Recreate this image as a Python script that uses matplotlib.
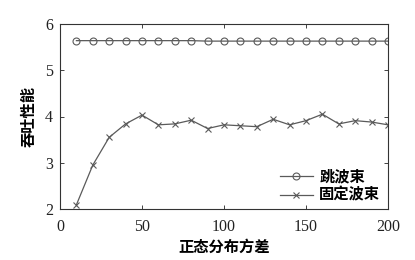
import matplotlib
matplotlib.use("Agg")
import matplotlib.pyplot as plt

plt.rcParams['font.family'] = ['Liberation Serif', 'Noto Sans CJK SC']

x = [10, 20, 30, 40, 50, 60, 70, 80, 90, 100, 110, 120, 130, 140, 150, 160, 170, 180, 190, 200]
hop = [5.64, 5.64, 5.64, 5.64, 5.64, 5.64, 5.64, 5.64, 5.63, 5.63, 5.63, 5.63, 5.63, 5.63, 5.63, 5.63, 5.63, 5.63, 5.63, 5.63]
fixed = [2.09, 2.95, 3.55, 3.84, 4.03, 3.82, 3.84, 3.92, 3.74, 3.82, 3.80, 3.78, 3.94, 3.82, 3.91, 4.05, 3.84, 3.91, 3.88, 3.82]
labels = ['跳波束', '固定波束']
xlabel = '正态分布方差'
ylabel = '吞吐性能'

fig = plt.figure(figsize=(4.15, 2.6), dpi=100)
ax = fig.add_axes([60/415, 1-209/260, 328/415, 185/260])
col = '#5a5a5a'
ax.plot(x, hop, color=col, lw=0.9, marker='o', ms=5, mfc='none', mec=col, mew=0.8, label=labels[0])
ax.plot(x, fixed, color=col, lw=0.9, marker='x', ms=5, mec=col, mew=0.8, label=labels[1])
ax.set_xlim(0, 200)
ax.set_ylim(2, 6)
ax.set_xticks([0, 50, 100, 150, 200])
ax.set_yticks([2, 3, 4, 5, 6])
ax.tick_params(direction='in', top=True, right=True, labelsize=11.5, length=3, width=0.6, colors='#222222')
ax.tick_params(axis='x', pad=7)
ax.tick_params(axis='y', pad=5)
for s in ax.spines.values():
    s.set_linewidth(0.8)
    s.set_color('#333333')
ax.set_xlabel(xlabel, family=['Noto Sans CJK SC'], fontsize=11, fontweight='bold', labelpad=3)
ax.set_ylabel(ylabel, family=['Noto Sans CJK SC'], fontsize=11, fontweight='bold', labelpad=6)
leg = ax.legend(loc='lower right', frameon=False, prop={'family': ['Noto Sans CJK SC'], 'size': 11, 'weight': 'bold'},
                handlelength=2.2, handletextpad=0.4, labelspacing=0.15, borderaxespad=0.0,
                bbox_to_anchor=(0.995, 0.0))
fig.savefig('out.png', dpi=100)
